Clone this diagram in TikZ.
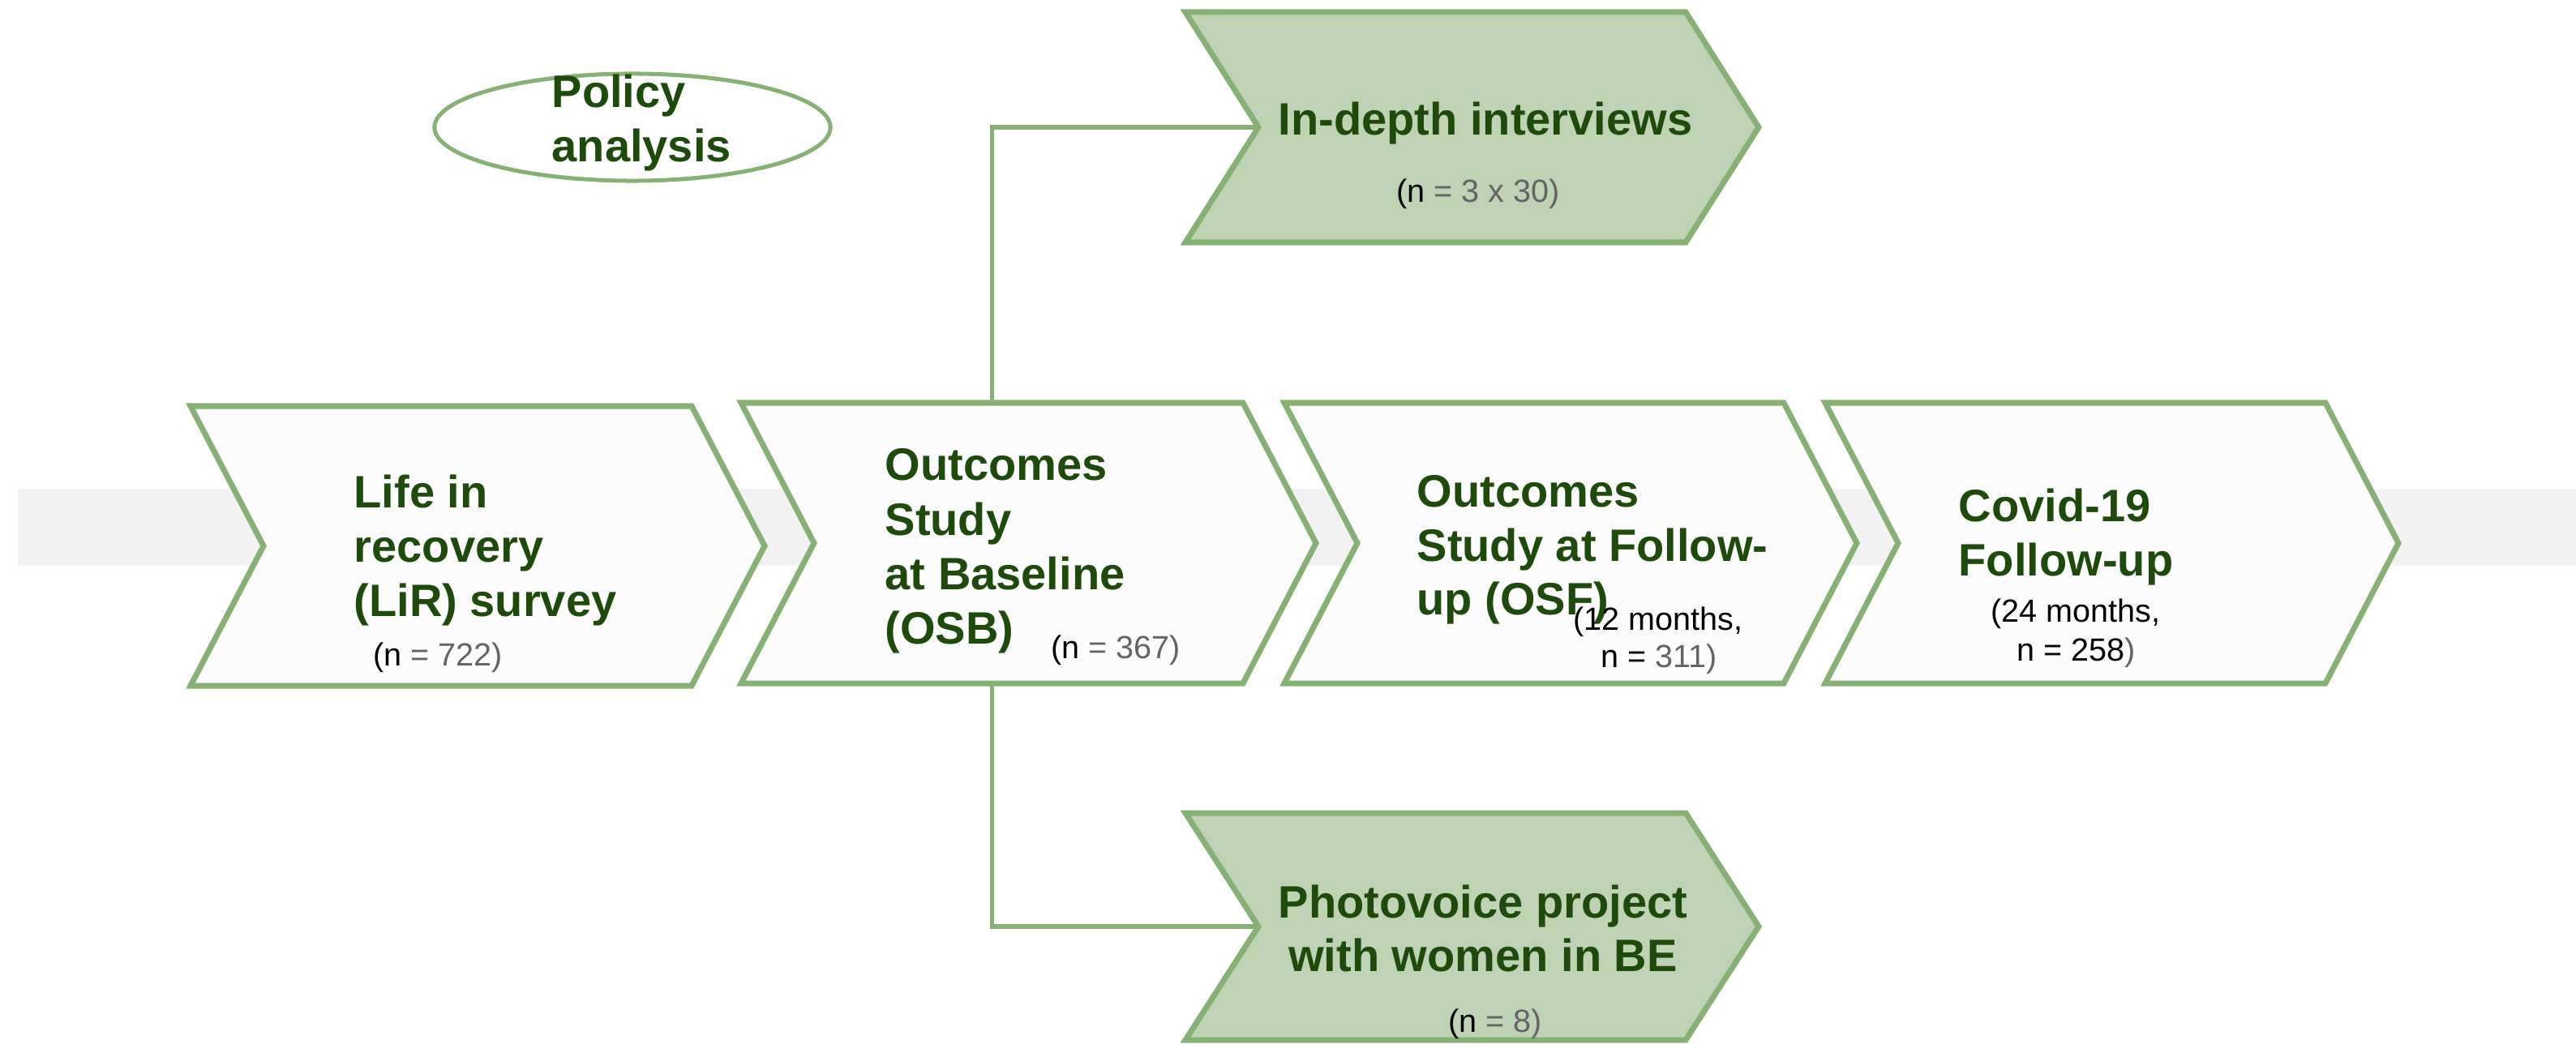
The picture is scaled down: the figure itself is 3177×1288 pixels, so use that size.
\documentclass[tikz,border=0pt]{standalone}
\usepackage{fontspec}
\setmainfont{Liberation Sans}
\usetikzlibrary{shapes.geometric}
\definecolor{edgegreen}{HTML}{87B074}
\definecolor{sidefill}{HTML}{BDD3B4}
\definecolor{mainfill}{HTML}{FCFCFC}
\definecolor{bandgray}{HTML}{F2F2F2}
\definecolor{titlegreen}{HTML}{1E4B0C}
\definecolor{ngray}{HTML}{646464}
\newcommand\chevron[6]{%
  \draw[chevline, fill=#6] (#2,#4) -- (#3,#4) -- ({#3+90},{(#4+#5)/2}) -- (#3,#5) -- (#2,#5) -- ({#2+90},{(#4+#5)/2}) -- cycle;
  \coordinate (#1-n) at ({(#2+#3)/2},#4);
  \coordinate (#1-s) at ({(#2+#3)/2},#5);
  \coordinate (#1-notch) at ({#2+90},{(#4+#5)/2});
}
\tikzset{
  chevline/.style={draw=edgegreen, line width=0.07cm, line join=miter},
  conn/.style={draw=edgegreen, line width=0.055cm},
  ttl/.style={inner sep=0pt, text=titlegreen, font=\bfseries\fontsize{0.56cm}{0.67cm}\selectfont},
  small/.style={inner sep=0pt, text=black, font=\fontsize{0.395cm}{0.47cm}\selectfont},
}
\begin{document}
\begin{tikzpicture}[x=0.01cm, y=-0.01cm]
\useasboundingbox (0,0) rectangle (3177,1288);
% background band
\fill[bandgray] (22,603) rectangle (3177,698);
% main chevrons
\chevron{lir}{235}{853}{501}{846}{mainfill}
\chevron{osb}{914}{1533}{497}{843}{mainfill}
\chevron{osf}{1584}{2200}{497}{843}{mainfill}
\chevron{cov}{2251}{2868}{497}{843}{mainfill}
% side chevrons
\chevron{idi}{1462}{2079}{15}{299}{sidefill}
\chevron{pv}{1462}{2079}{1003}{1283}{sidefill}
% connectors
\draw[conn] (osb-n) |- (idi-notch);
\draw[conn] (osb-s) |- (pv-notch);
% policy ellipse
\node[ellipse, draw=edgegreen, line width=0.05cm, minimum width=4.88cm, minimum height=1.32cm, inner sep=0pt] (policy) at (780,157) {};
\node[ttl, anchor=base west] (pol1) at (680,133) {Policy};
\node[ttl, anchor=base west] (pol2) at (680,200) {analysis};
% box 1
\node[ttl, anchor=base west] (lir1) at (436,626) {Life in};
\node[ttl, anchor=base west] (lir2) at (436,693) {recovery};
\node[ttl, anchor=base west] (lir3) at (436,760) {(LiR) survey};
\node[small, anchor=base west] (lirn) at (460,821) {(n \textcolor{ngray}{= 722)}};
% box 2
\node[ttl, anchor=base west] (osb1) at (1091,593) {Outcomes};
\node[ttl, anchor=base west] (osb2) at (1091,660) {Study};
\node[ttl, anchor=base west] (osb3) at (1091,727) {at Baseline};
\node[ttl, anchor=base west] (osb4) at (1091,794) {(OSB)};
\node[small, anchor=base west] (osbn) at (1296,812) {(n \textcolor{ngray}{= 367)}};
% box 3
\node[ttl, anchor=base west] (osf1) at (1747,625) {Outcomes};
\node[ttl, anchor=base west] (osf2) at (1747,692) {Study at Follow-};
\node[ttl, anchor=base west] (osf3) at (1747,758) {up (OSF)};
\node[small, anchor=base west] (osfm) at (1940,777) {(12 months,};
\node[small, anchor=base west] (osfn) at (1974,823) {n = \textcolor{ngray}{311)}};
% box 4
\node[ttl, anchor=base west] (cov1) at (2415,643) {Covid-19};
\node[ttl, anchor=base west] (cov2) at (2415,710) {Follow-up};
\node[small, anchor=base west] (covm) at (2455,767) {(24 months,};
\node[small, anchor=base west] (covn) at (2487,815) {n = 258\textcolor{ngray}{)}};
% in-depth
\node[ttl, anchor=base] (idi1) at (1832,167) {In-depth interviews};
\node[small, anchor=base] (idin) at (1823,250) {(n \textcolor{ngray}{= 3 x 30)}};
% photovoice
\node[ttl, anchor=base] (pv1) at (1829,1132) {Photovoice project};
\node[ttl, anchor=base] (pv2) at (1829,1198) {with women in BE};
\node[small, anchor=base] (pvn) at (1844,1273) {(n \textcolor{ngray}{= 8)}};
\end{tikzpicture}
\end{document}
